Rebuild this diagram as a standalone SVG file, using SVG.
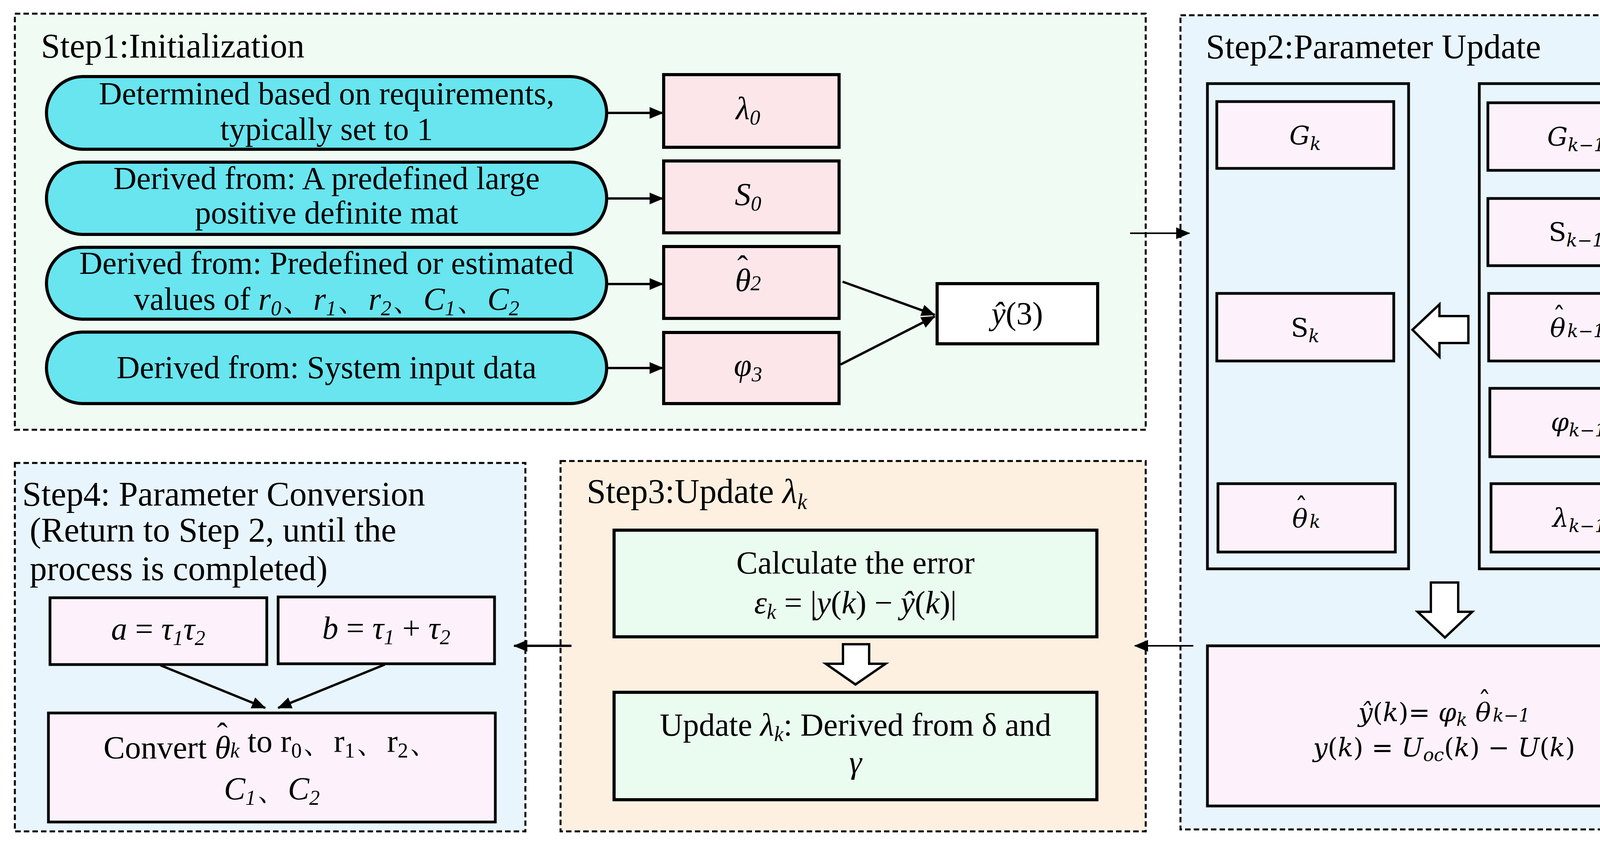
<svg xmlns="http://www.w3.org/2000/svg" width="4400" height="2168" viewBox="0 0 4400 2168">
<defs>
<marker id="ah2" markerWidth="36" markerHeight="30" refX="34" refY="15" orient="auto" markerUnits="userSpaceOnUse" viewBox="0 0 36 30"><path d="M0,0 L36,15 L0,30 z" fill="#000"/></marker>
<style>
text{font-family:"Liberation Serif","DejaVu Serif",serif;fill:#000;}
.t{font-size:82px;}
.h{font-size:88px;}
.m{font-size:82px;font-style:italic;}
.m2{font-family:"DejaVu Serif",serif;font-size:66px;font-style:italic;}
.step{stroke:#000;stroke-width:5;stroke-dasharray:14 8;}
.pill{fill:#68e5ef;stroke:#000;stroke-width:8;}
.pk{fill:#fde6ea;stroke:#000;stroke-width:8;}
.pl{fill:#fdf2fb;stroke:#000;stroke-width:7;}
.gr{fill:#eafbef;stroke:#000;stroke-width:8;}
.col{fill:none;stroke:#000;stroke-width:7;}
.ln{stroke:#000;stroke-width:6;fill:none;}
.ln2{stroke:#000;stroke-width:4;fill:none;}
.hol{fill:#fff;stroke:#000;stroke-width:6;}
</style>
</defs>
<rect width="4400" height="2168" fill="#fff"/>
<g id="step1">
<rect x="38" y="35" width="2895" height="1065" fill="#f0fcf3" class="step"/>
<text x="105" y="147" class="h">Step1:Initialization</text>
</g>
<g id="step2">
<rect x="3022" y="39" width="1347" height="2084" fill="#e8f5fd" class="step"/>
<text x="3087" y="149" class="h">Step2:Parameter Update</text>
<rect x="3091" y="214" width="515" height="1242" class="col"/>
<rect x="3787" y="214" width="515" height="1242" class="col"/>
</g>
<g id="step3">
<rect x="1435" y="1180" width="1498" height="948" fill="#fdf0e0" class="step"/>
<text x="1502" y="1287" class="h">Step3:Update <tspan font-style="italic">λ<tspan font-size="56" dy="16">k</tspan></tspan></text>
</g>
<g id="step4">
<rect x="38" y="1185" width="1307" height="943" fill="#e8f5fd" class="step"/>
<text x="57" y="1294" class="h">Step4: Parameter Conversion</text>
<text x="76" y="1386" class="h">(Return to Step 2, until the</text>
<text x="76" y="1485" class="h">process is completed)</text>
</g>
<g id="pill1"><rect x="119" y="196" width="1434" height="186" rx="93" class="pill"/>
<text x="836" y="267" class="t" text-anchor="middle">Determined based on requirements,</text>
<text x="836" y="358" class="t" text-anchor="middle">typically set to 1</text></g>
<g id="pill2"><rect x="119" y="415" width="1434" height="185" rx="92" class="pill"/>
<text x="836" y="484" class="t" text-anchor="middle">Derived from: A predefined large</text>
<text x="836" y="572" class="t" text-anchor="middle">positive definite mat</text></g>
<g id="pill3"><rect x="119" y="633" width="1434" height="184" rx="92" class="pill"/>
<text x="836" y="701" class="t" text-anchor="middle">Derived from: Predefined or estimated</text>
<text x="836" y="793" class="t" text-anchor="middle">values of <tspan class="m">r<tspan font-size="54" dy="14">0</tspan></tspan><tspan dy="-14">、</tspan><tspan class="m">r<tspan font-size="54" dy="14">1</tspan></tspan><tspan dy="-14">、</tspan><tspan class="m">r<tspan font-size="54" dy="14">2</tspan></tspan><tspan dy="-14">、</tspan><tspan class="m">C<tspan font-size="54" dy="14">1</tspan></tspan><tspan dy="-14">、</tspan><tspan class="m">C<tspan font-size="54" dy="14">2</tspan></tspan></text></g>
<g id="pill4"><rect x="119" y="850" width="1434" height="183" rx="92" class="pill"/>
<text x="836" y="968" class="t" text-anchor="middle">Derived from: System input data</text></g>
<g id="lam0"><rect x="1699" y="191" width="449" height="186" class="pk"/>
<text x="1915" y="305" class="m" text-anchor="middle">λ<tspan font-size="54" dy="14">0</tspan></text></g>
<g id="s0"><rect x="1699" y="412" width="449" height="184" class="pk"/>
<text x="1915" y="525" class="m" text-anchor="middle">S<tspan font-size="54" dy="14">0</tspan></text></g>
<g id="theta2"><rect x="1699" y="631" width="449" height="184" class="pk"/>
<text x="1915" y="745" class="m" text-anchor="middle">θ<tspan dx="-0.42em" dy="-0.42em" font-style="normal">ˆ</tspan><tspan font-size="54" dx="0.12em" dy="0.6em">2</tspan></text></g>
<g id="phi3"><rect x="1699" y="851" width="449" height="182" class="pk"/>
<text x="1915" y="962" class="m" text-anchor="middle">φ<tspan font-size="54" dy="14">3</tspan></text></g>
<g id="y3"><rect x="2399" y="726" width="411" height="154" fill="#fff" stroke="#000" stroke-width="8"/>
<text x="2604" y="830" class="m" text-anchor="middle">ŷ<tspan font-style="normal">(3)</tspan></text></g>
<g id="Gk"><rect x="3115" y="260" width="453" height="171" class="pl"/><text x="3341" y="370" class="m2" text-anchor="middle">G<tspan font-size="46" dy="14">k</tspan></text></g>
<g id="Sk"><rect x="3115" y="751" width="453" height="173" class="pl"/><text x="3341" y="862" class="m2" text-anchor="middle"><tspan font-style="normal">S</tspan><tspan font-size="46" dy="14">k</tspan></text></g>
<g id="thk"><rect x="3118" y="1238" width="454" height="175" class="pl"/><text x="3344" y="1350" class="m2" text-anchor="middle">θ<tspan dx="-0.5em" dy="-0.45em" font-style="normal">ˆ</tspan><tspan font-size="46" dx="0.1em" dy="0.66em">k</tspan></text></g>
<g id="Gk1"><rect x="3809" y="263" width="452" height="173" class="pl"/><text x="4035" y="373" class="m2" text-anchor="middle">G<tspan font-size="46" dy="14">k−1</tspan></text></g>
<g id="Sk1"><rect x="3809" y="508" width="452" height="172" class="pl"/><text x="4035" y="617" class="m2" text-anchor="middle"><tspan font-style="normal">S</tspan><tspan font-size="46" dy="14">k−1</tspan></text></g>
<g id="thk1"><rect x="3811" y="751" width="455" height="173" class="pl"/><text x="4038" y="862" class="m2" text-anchor="middle">θ<tspan dx="-0.5em" dy="-0.45em" font-style="normal">ˆ</tspan><tspan font-size="46" dx="0.1em" dy="0.66em">k−1</tspan></text></g>
<g id="phk1"><rect x="3814" y="994" width="455" height="175" class="pl"/><text x="4041" y="1103" class="m2" text-anchor="middle">φ<tspan font-size="46" dy="14">k−1</tspan></text></g>
<g id="lk1"><rect x="3817" y="1238" width="453" height="175" class="pl"/><text x="4043" y="1348" class="m2" text-anchor="middle">λ<tspan font-size="46" dy="14">k−1</tspan></text></g>
<g id="formula"><rect x="3091" y="1653" width="1211" height="410" class="pl"/>
<text x="3697" y="1846" class="m2" text-anchor="middle">ŷ<tspan font-style="normal">(</tspan>k<tspan font-style="normal">)= </tspan>φ<tspan font-size="46" dy="12">k</tspan><tspan dy="-12"> θ</tspan><tspan dx="-0.5em" dy="-0.45em" font-style="normal">ˆ</tspan><tspan font-size="46" dx="0.1em" dy="0.66em">k−1</tspan></text>
<text x="3697" y="1936" class="m2" text-anchor="middle">y<tspan font-style="normal">(</tspan>k<tspan font-style="normal">) = </tspan>U<tspan font-size="46" dy="12">oc</tspan><tspan dy="-12" font-style="normal">(</tspan>k<tspan font-style="normal">) − </tspan>U<tspan font-style="normal">(</tspan>k<tspan font-style="normal">)</tspan></text></g>
<g id="calc"><rect x="1572" y="1357" width="1236" height="273" class="gr"/>
<text x="2190" y="1468" class="t" text-anchor="middle">Calculate the error</text>
<text x="2190" y="1570" class="t" text-anchor="middle"><tspan class="m">ε<tspan font-size="54" dy="14">k</tspan></tspan><tspan dy="-14"> = |</tspan><tspan class="m">y</tspan>(<tspan class="m">k</tspan>)  − <tspan class="m">ŷ</tspan>(<tspan class="m">k</tspan>)|</text></g>
<g id="upd"><rect x="1572" y="1772" width="1236" height="275" class="gr"/>
<text x="2190" y="1883" class="t" text-anchor="middle">Update <tspan class="m">λ<tspan font-size="54" dy="14">k</tspan></tspan><tspan dy="-14">: Derived from δ and</tspan></text>
<text x="2190" y="1978" class="m" text-anchor="middle">γ</text></g>
<g id="abox"><rect x="128" y="1530" width="555" height="171" class="pl"/>
<text x="405" y="1637" class="m" text-anchor="middle">a<tspan font-style="normal"> = </tspan>τ<tspan font-size="54" dy="14">1</tspan><tspan dy="-14">τ</tspan><tspan font-size="54" dy="14">2</tspan></text></g>
<g id="bbox"><rect x="712" y="1528" width="554" height="171" class="pl"/>
<text x="989" y="1635" class="m" text-anchor="middle">b<tspan font-style="normal"> = </tspan>τ<tspan font-size="54" dy="14">1</tspan><tspan dy="-14" font-style="normal"> + </tspan>τ<tspan font-size="54" dy="14">2</tspan></text></g>
<g id="conv"><rect x="124" y="1825" width="1144" height="279" class="pl"/>
<text x="696" y="1941" class="t" text-anchor="middle">Convert <tspan font-style="italic">θ</tspan><tspan dx="-0.42em" dy="-0.42em">ˆ</tspan><tspan font-style="italic" font-size="54" dx="0.12em" dy="0.6em">k</tspan><tspan dy="-14"> to r</tspan><tspan font-size="54" dy="14">0</tspan><tspan dy="-14">、r</tspan><tspan font-size="54" dy="14">1</tspan><tspan dy="-14">、r</tspan><tspan font-size="54" dy="14">2</tspan><tspan dy="-14">、</tspan></text>
<text x="696" y="2046" class="m" text-anchor="middle">C<tspan font-size="54" dy="14">1</tspan><tspan dy="-14" font-style="normal">、</tspan>C<tspan font-size="54" dy="14">2</tspan></text></g>
<g id="connectors">
<line x1="1557" y1="289" x2="1697" y2="289" class="ln" marker-end="url(#ah2)"/>
<line x1="1557" y1="508" x2="1697" y2="508" class="ln" marker-end="url(#ah2)"/>
<line x1="1557" y1="727" x2="1697" y2="727" class="ln" marker-end="url(#ah2)"/>
<line x1="1557" y1="942" x2="1697" y2="942" class="ln" marker-end="url(#ah2)"/>
<line x1="2157" y1="721" x2="2393" y2="806" class="ln" marker-end="url(#ah2)"/>
<line x1="2152" y1="933" x2="2393" y2="810" class="ln" marker-end="url(#ah2)"/>
<line x1="2893" y1="597" x2="3045" y2="597" class="ln2" marker-end="url(#ah2)"/>
<line x1="3055" y1="1653" x2="2905" y2="1653" class="ln2" marker-end="url(#ah2)"/>
<line x1="1463" y1="1653" x2="1316" y2="1653" class="ln" marker-end="url(#ah2)"/>
<line x1="411" y1="1703" x2="679" y2="1812" class="ln" marker-end="url(#ah2)"/>
<line x1="985" y1="1701" x2="712" y2="1812" class="ln" marker-end="url(#ah2)"/>
<path d="M3616,844 L3685,779 L3685,809 L3759,809 L3759,878 L3685,878 L3685,913 Z" class="hol"/>
<path d="M3663,1491 L3733,1491 L3733,1566 L3769,1566 L3699,1632 L3629,1566 L3663,1566 Z" class="hol"/>
<path d="M2158,1649 L2225,1649 L2225,1699 L2267,1699 L2190,1752 L2114,1699 L2158,1699 Z" class="hol"/>
</g>
</svg>
